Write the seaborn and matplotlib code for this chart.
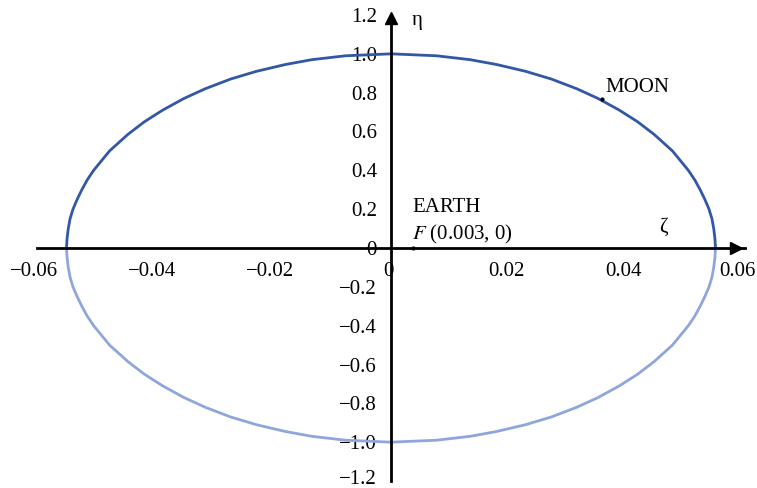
import numpy as np
import matplotlib
matplotlib.use("Agg")
import matplotlib.pyplot as plt
import matplotlib.transforms as mtransforms
import seaborn as sns
import pandas as pd

# orbit points, right half (zeta >= 0), upper branch
eta_half = [0.0, 0.05, 0.1, 0.15, 0.2, 0.25, 0.3, 0.35, 0.4, 0.5, 0.585, 0.65, 0.71,
            0.77, 0.82, 0.87, 0.91, 0.945, 0.97, 0.99, 1.0]
zeta_half = [0.0550, 0.0549, 0.0547, 0.0544, 0.0539, 0.0532, 0.0524, 0.0515, 0.0504, 0.0477,
             0.0446, 0.0418, 0.0387, 0.0351, 0.0315, 0.0272, 0.0228, 0.0179, 0.0134, 0.0077, 0.0]

# full upper branch (left to right) and lower branch
zeta_upper = [-z for z in zeta_half] + zeta_half[::-1][1:]
eta_upper = eta_half + eta_half[::-1][1:]
zeta_lower = zeta_upper
eta_lower = [-v for v in eta_upper]

earth = (0.0037, 0.0)
moon = (0.0357, 0.765)

x_ticks = [-0.06, -0.04, -0.02, 0, 0.02, 0.04, 0.06]
x_labels = ['\u22120.06', '\u22120.04', '\u22120.02', '0', '0.02', '0.04', '0.06']
y_ticks = [-1.2, -1.0, -0.8, -0.6, -0.4, -0.2, 0, 0.2, 0.4, 0.6, 0.8, 1.0, 1.2]
y_labels = ['\u22121.2', '\u22121.0', '\u22120.8', '\u22120.6', '\u22120.4', '\u22120.2', '0',
            '0.2', '0.4', '0.6', '0.8', '1.0', '1.2']

sns.set_style("white")
plt.rcParams['font.family'] = ['Liberation Serif', 'DejaVu Serif']
plt.rcParams['mathtext.fontset'] = 'stix'
plt.rcParams['text.color'] = 'black'

fig = plt.figure(figsize=(7.57, 4.88), dpi=100)
ax = fig.add_axes([37 / 757, 7 / 488, 708 / 757, 466 / 488])

upper = pd.DataFrame({'zeta': zeta_upper, 'eta': eta_upper})
lower = pd.DataFrame({'zeta': zeta_lower, 'eta': eta_lower})
sns.lineplot(data=upper, x='zeta', y='eta', sort=False, color='#3157a6', lw=2, ax=ax)
sns.lineplot(data=lower, x='zeta', y='eta', sort=False, color='#8fa6dc', lw=2, ax=ax)

ax.plot(*earth, 'o', color='black', ms=2)
ax.plot(*moon, 'o', color='black', ms=2)

ax.set_xlim(-0.06, 0.06)
ax.set_ylim(-1.2, 1.2)
ax.spines['left'].set_position('zero')
ax.spines['bottom'].set_position('zero')
ax.spines['top'].set_visible(False)
ax.spines['right'].set_visible(False)
for s in ['left', 'bottom']:
    ax.spines[s].set_linewidth(2)
    ax.spines[s].set_color('black')

ax.set_xticks(x_ticks)
ax.set_xticklabels(x_labels)
ax.set_yticks(y_ticks)
ax.set_yticklabels(y_labels)
ax.tick_params(axis='both', direction='out', length=5, width=2, color='black',
               labelsize=15, labelcolor='black')
ax.tick_params(axis='y', pad=5)
ax.tick_params(axis='x', pad=5)
ax.set_xlabel('')
ax.set_ylabel('')

# nudge tick labels a little like the reference
for i, lab in enumerate(ax.get_xticklabels()):
    dx = -8 if i == len(x_ticks) - 1 else -3
    lab.set_transform(lab.get_transform() + mtransforms.ScaledTranslation(dx / 100, 0, fig.dpi_scale_trans))
ylabs = ax.get_yticklabels()
ylabs[0].set_transform(ylabs[0].get_transform() + mtransforms.ScaledTranslation(0, 4 / 100, fig.dpi_scale_trans))

# arrow heads on the axes
ax.plot(0.0585, 0, '>', color='black', ms=9, clip_on=False)
ax.plot(0, 1.185, '^', color='black', ms=9, clip_on=False)

ax.text(0.0035, 1.17, '\u03b7', fontsize=15, va='center', ha='left')
ax.text(0.0455, 0.105, '\u03b6', fontsize=15, va='center', ha='left')
ax.text(0.0363, 0.825, 'MOON', fontsize=15, va='center', ha='left')
ax.text(0.0037, 0.21, 'EARTH', fontsize=15, va='center', ha='left')
ax.text(0.0035, 0.07, '$F$ (0.003, 0)', fontsize=15, va='center', ha='left')

fig.savefig('out.png', dpi=100)
